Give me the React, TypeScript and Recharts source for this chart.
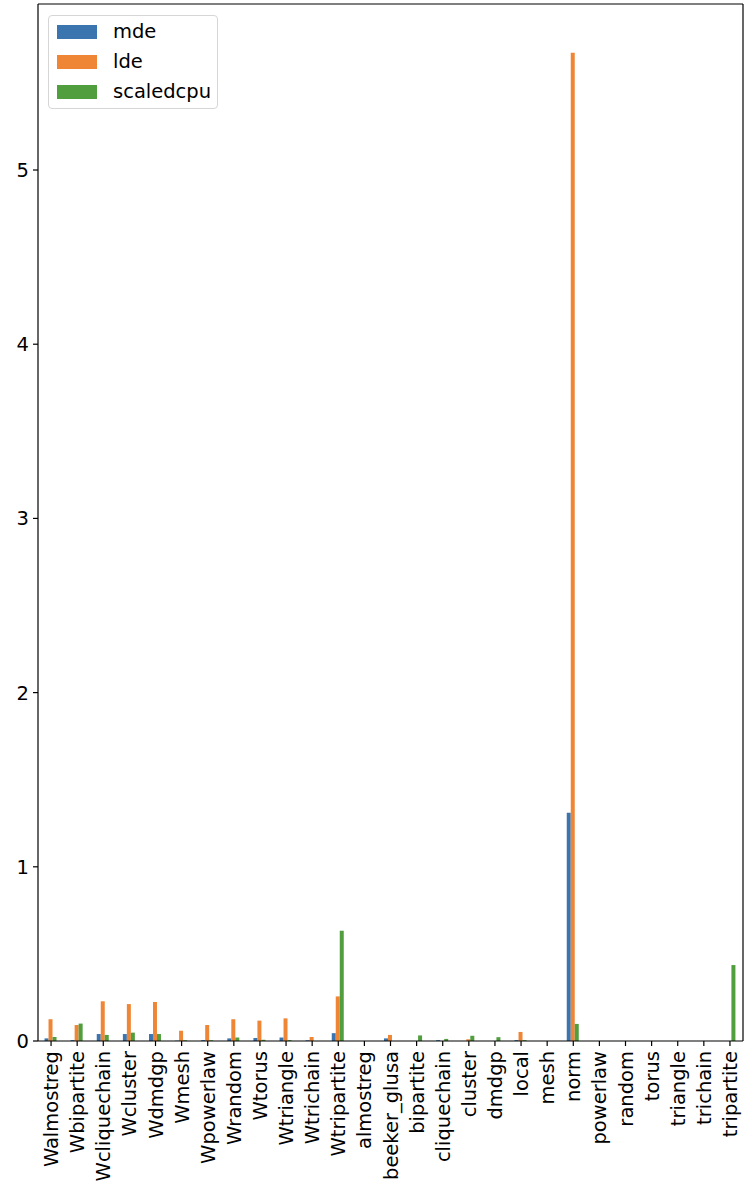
import React from "react";
import { BarChart, Bar, XAxis, YAxis } from "recharts";

const categories = [
  "Walmostreg", "Wbipartite", "Wcliquechain", "Wcluster", "Wdmdgp", "Wmesh",
  "Wpowerlaw", "Wrandom", "Wtorus", "Wtriangle", "Wtrichain", "Wtripartite",
  "almostreg", "beeker_glusa", "bipartite", "cliquechain", "cluster", "dmdgp",
  "local", "mesh", "norm", "powerlaw", "random", "torus", "triangle", "trichain",
  "tripartite",
];

const mde = [
  0.015, 0.005, 0.04, 0.04, 0.04, 0.002, 0.005, 0.015, 0.017, 0.02, 0.004, 0.045,
  0, 0.015, 0, 0.005, 0, 0, 0.005, 0, 1.31, 0, 0, 0, 0, 0, 0,
];

const lde = [
  0.125, 0.092, 0.228, 0.212, 0.224, 0.059, 0.092, 0.125, 0.117, 0.13, 0.023, 0.256,
  0, 0.035, 0, 0, 0.01, 0, 0.052, 0, 5.673, 0, 0, 0, 0, 0, 0,
];

const scaledcpu = [
  0.023, 0.1, 0.035, 0.048, 0.04, 0.004, 0.004, 0.02, 0.007, 0.005, 0, 0.633,
  0, 0, 0.032, 0.012, 0.03, 0.022, 0.005, 0, 0.098, 0, 0, 0, 0, 0, 0.436,
];

const yTicks = [0, 1, 2, 3, 4, 5];

const COLORS = { mde: "#3a75b0", lde: "#ef8636", scaledcpu: "#519e3e" };
const FONT = "'DejaVu Sans', sans-serif";

const data = categories.map((c, i) => ({
  name: c,
  mde: mde[i],
  lde: lde[i],
  scaledcpu: scaledcpu[i],
}));

const XTick = (props: any) => {
  const { x, y, payload } = props;
  return (
    <g transform={`translate(${x},${y})`}>
      <text
        transform="rotate(-90)"
        x={-3}
        y={0}
        dy="0.36em"
        textAnchor="end"
        fill="#000"
        fontSize={19.5}
        fontFamily={FONT}
      >
        {payload.value}
      </text>
    </g>
  );
};

const legendItems = [
  { key: "mde", color: COLORS.mde },
  { key: "lde", color: COLORS.lde },
  { key: "scaledcpu", color: COLORS.scaledcpu },
];

export default function App() {
  return (
    <div style={{ position: "absolute", left: 0, top: 0, width: 753, height: 1189, background: "#fff" }}>
      <BarChart
        width={753}
        height={1189}
        data={data}
        margin={{ top: 3, right: 9, bottom: 8, left: 0 }}
        barCategoryGap="25%"
        barGap={0}
      >
        <XAxis
          dataKey="name"
          interval={0}
          tick={<XTick />}
          tickSize={5}
          tickMargin={2}
          height={140}
          axisLine={{ stroke: "#000", strokeWidth: 1.2 }}
          tickLine={{ stroke: "#000", strokeWidth: 1.2 }}
        />
        <XAxis
          xAxisId="top"
          dataKey="name"
          orientation="top"
          height={1}
          tick={false}
          tickLine={false}
          axisLine={{ stroke: "#000", strokeWidth: 1.2 }}
        />
        <YAxis
          width={38}
          domain={[0, 5.953]}
          ticks={yTicks}
          allowDataOverflow
          tickSize={5}
          tickMargin={4}
          tick={{ fill: "#000", fontSize: 19.5, fontFamily: FONT }}
          axisLine={{ stroke: "#000", strokeWidth: 1.2 }}
          tickLine={{ stroke: "#000", strokeWidth: 1.2 }}
        />
        <YAxis
          yAxisId="right"
          orientation="right"
          width={1}
          domain={[0, 5.953]}
          tick={false}
          tickLine={false}
          axisLine={{ stroke: "#000", strokeWidth: 1.2 }}
        />
        <Bar dataKey="mde" fill={COLORS.mde} isAnimationActive={false} />
        <Bar dataKey="lde" fill={COLORS.lde} isAnimationActive={false} />
        <Bar dataKey="scaledcpu" fill={COLORS.scaledcpu} isAnimationActive={false} />
      </BarChart>
      <div
        style={{
          position: "absolute",
          left: 48,
          top: 15,
          width: 170,
          height: 94,
          border: "1px solid #d6d6d6",
          borderRadius: 4,
          background: "rgba(255,255,255,0.8)",
          fontFamily: FONT,
          fontSize: 19.5,
          color: "#000",
          boxSizing: "border-box",
        }}
      >
        {legendItems.map((it, i) => (
          <div
            key={it.key}
            style={{ position: "absolute", left: 8, top: 8 + i * 30, height: 16, display: "flex", alignItems: "center" }}
          >
            <div style={{ width: 40, height: 14, background: it.color }} />
            <span style={{ marginLeft: 16, lineHeight: "16px" }}>{it.key}</span>
          </div>
        ))}
      </div>
    </div>
  );
}
